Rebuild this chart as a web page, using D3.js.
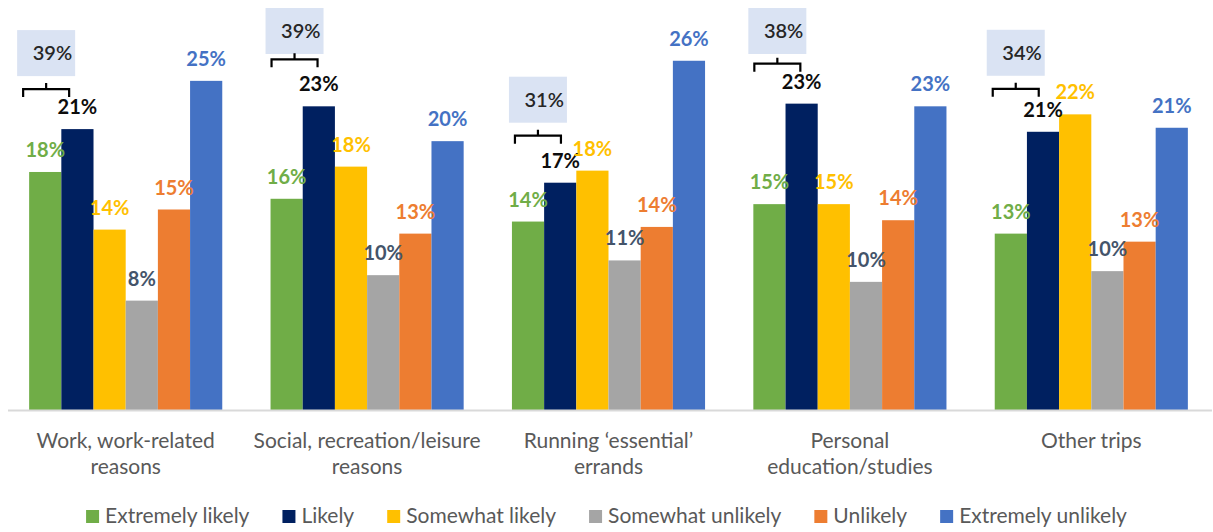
<!DOCTYPE html>
<html><head><meta charset="utf-8">
<script src="https://cdn.jsdelivr.net/npm/d3@7"></script>
<style>
body{margin:0;background:#fff;}
svg{display:block;font-family:Lato,'Noto Sans',sans-serif;}
</style>
</head><body><svg id="chart" width="1213" height="532"></svg>
<script>
// ---------- data ----------
const categories = [
  "Work, work-related\nreasons",
  "Social, recreation/leisure\nreasons",
  "Running \u2018essential\u2019\nerrands",
  "Personal\neducation/studies",
  "Other trips"
];
const seriesNames = ["Extremely likely","Likely","Somewhat likely","Somewhat unlikely","Unlikely","Extremely unlikely"];
const extremelyLikely   = [17.8, 15.8, 14.1, 15.4, 13.2];
const likely            = [21.0, 22.7, 17.0, 22.9, 20.8];
const somewhatLikely    = [13.5, 18.2, 17.9, 15.4, 22.1];
const somewhatUnlikely  = [8.2, 10.1, 11.2, 9.6, 10.4];
const unlikely          = [15.0, 13.2, 13.7, 14.2, 12.6];
const extremelyUnlikely = [24.6, 20.1, 26.1, 22.7, 21.1];
const combinedLikely    = [39, 39, 31, 38, 34];   // Extremely likely + Likely

// ---------- styles / layout ----------
const seriesColors = ["#70AD47","#002060","#FFC000","#A5A5A5","#ED7D31","#4472C4"];
const labelColors  = ["#70AD47","#0D0D0D","#FFC000","#44546A","#ED7D31","#4472C4"];
const bracketDx = [-6, 1, 3, 1, -2];
const bracketDy = [3, -4, -4, 3, 0];

const seriesValues = [extremelyLikely, likely, somewhatLikely, somewhatUnlikely, unlikely, extremelyUnlikely];

const svg = d3.select("#chart");
const W = 1213, H = 532;

const x0 = d3.scaleBand().domain(d3.range(categories.length)).range([5, 1212]).paddingInner(0.2).paddingOuter(0.1);
const x1 = d3.scaleBand().domain(d3.range(seriesNames.length)).range([0, x0.bandwidth()]);
const y = d3.scaleLinear().domain([0, 30]).range([410.5, 8.5]);

// bars
const groups = svg.append("g").selectAll("g").data(categories).join("g")
  .attr("transform", (d, i) => `translate(${x0(i)},0)`);

groups.selectAll("rect")
  .data((d, ci) => seriesValues.map((vals, si) => ({si, ci, v: vals[ci]})))
  .join("rect")
  .attr("x", d => x1(d.si))
  .attr("width", x1.bandwidth())
  .attr("y", d => y(d.v))
  .attr("height", d => y(0) - y(d.v))
  .attr("fill", d => seriesColors[d.si]);

// axis
const axis = svg.append("g").attr("transform", `translate(0,${y(0)})`)
  .call(d3.axisBottom(x0).tickSize(0).tickFormat(i => categories[i]));
axis.select(".domain").attr("stroke", "#D9D9D9").attr("stroke-width", 2).attr("d", "M8,0H1212");
axis.selectAll(".tick text").each(function(d) {
  const t = d3.select(this);
  const lines = categories[d].split("\n");
  t.text(null).attr("y", 0).attr("dy", null)
   .attr("fill", "#595959").attr("font-size", 21).attr("font-family", "Lato,'Noto Sans',sans-serif");
  lines.forEach((ln, k) => t.append("tspan").attr("x", 0).attr("y", 37 + k * 26).text(ln));
});

// value labels
groups.selectAll("text.val")
  .data((d, ci) => seriesValues.map((vals, si) => ({si, ci, v: vals[ci]})))
  .join("text").attr("class", "val")
  .attr("x", d => x1(d.si) + x1.bandwidth() / 2)
  .attr("y", d => y(d.v) - 15)
  .attr("text-anchor", "middle")
  .attr("font-size", 20).attr("font-weight", "bold")
  .attr("fill", d => labelColors[d.si])
  .text(d => Math.round(d.v) + "%");

// annotation boxes + brackets
const ann = svg.append("g");
categories.forEach((c, i) => {
  const cx = x0(i) + 23 + bracketDx[i];
  const by = y(likely[i]) - 43 + bracketDy[i];
  const half = 23;
  const boxW = 58, boxH = 46;
  const boxTop = Math.max(8, by - 13 - boxH);
  ann.append("rect").attr("x", cx - boxW / 2).attr("y", boxTop).attr("width", boxW).attr("height", boxH).attr("fill", "#DAE3F3");
  ann.append("text").attr("x", cx + boxW / 2 - 3).attr("y", boxTop + boxH / 2 + 7)
    .attr("text-anchor", "end").attr("font-size", 20).attr("fill", "#262626").attr("font-weight", 600)
    .text(combinedLikely[i] + "%");
  ann.append("path")
    .attr("d", `M${cx - half},${by + 8}V${by}H${cx + half}V${by + 8}M${cx},${by}V${by - 6}`)
    .attr("fill", "none").attr("stroke", "#000").attr("stroke-width", 2.2);
});

// legend
const leg = svg.append("g");
let lx = 0;
seriesNames.forEach((name, i) => {
  const g = leg.append("g").attr("transform", `translate(${lx},0)`);
  g.append("rect").attr("x", 0).attr("y", -13).attr("width", 13).attr("height", 13).attr("fill", seriesColors[i]);
  const t = g.append("text").attr("x", 19).attr("y", 0).attr("font-size", 21).attr("fill", "#595959").text(name);
  const w = t.node().getComputedTextLength();
  lx += 19 + w + 33;
});
const totalW = lx - 33;
leg.attr("transform", `translate(${(W - totalW) / 2},${523})`);
</script>
</body></html>
